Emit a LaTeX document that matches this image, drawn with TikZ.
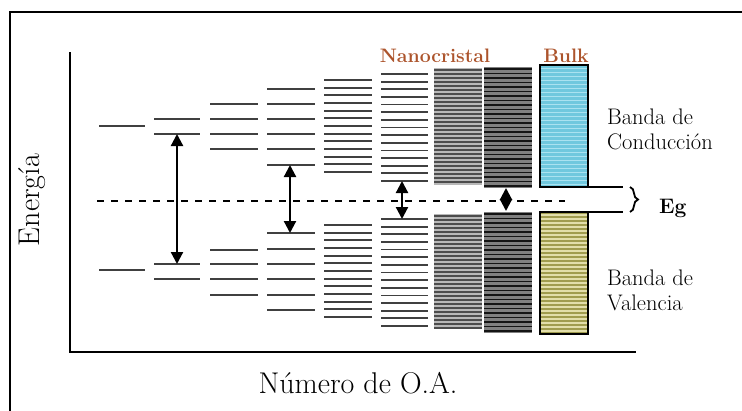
\documentclass[tikz,border=0pt]{standalone}
\usepackage{tikz}
\usepackage{xcolor}
\usetikzlibrary{arrows.meta,decorations.pathreplacing}
\definecolor{levelcolor}{gray}{0.25}
\definecolor{nanocolor}{RGB}{172,84,44}
\definecolor{cbcolor}{RGB}{112,200,222}
\definecolor{cbstripecolor}{RGB}{170,226,240}
\definecolor{vbcolor}{RGB}{160,156,78}
\definecolor{vbstripecolor}{RGB}{226,222,170}
\definecolor{densebgcolor}{gray}{0.72}
\definecolor{denselinecolor}{gray}{0.30}
\definecolor{darkbgcolor}{gray}{0.50}
\definecolor{darklinecolor}{gray}{0.08}

\begin{document}
\begin{tikzpicture}[x=1pt, y=-1pt,
    level/.style={levelcolor, line width=1.8pt},
    gaparrow/.style={{Triangle[length=12pt,width=12pt]}-{Triangle[length=12pt,width=12pt]}, line width=2.2pt},
    axisline/.style={line width=2.4pt},
    bandbox/.style={draw, line width=2pt, outer sep=0pt, inner sep=0pt, minimum width=48pt, minimum height=122pt},
    bigtext/.style={font=\fontsize{30}{32}\selectfont},
    bandtext/.style={font=\fontsize{22.5}{24.5}\selectfont, align=left, anchor=base west, inner sep=0pt},
    headtext/.style={font=\fontsize{19.5}{22}\selectfont\bfseries, text=nanocolor, anchor=base, inner sep=0pt}]

    \useasboundingbox (0,0) rectangle (742,410);
    \draw[line width=2pt] (750,12) -- (10,12) -- (10,420);

    \coordinate (ytop) at (70,52);
    \coordinate (origin) at (70,352);
    \coordinate (xend) at (636,352);
    \draw[axisline] (ytop) -- (origin) -- (xend);

    \node (energy) [bigtext, rotate=90] at (32,200) {Energía};
    \node (numoa) [bigtext, anchor=base] at (358,393) {Número de O.A.};

    \foreach \yy in {126,270}
        \draw[level] (99,\yy) -- (145,\yy);
    \foreach \yy in {119,134,264,279}
        \draw[level] (154,\yy) -- (200,\yy);
    \foreach \yy in {104,119,134,149,250,264,279,295}
        \draw[level] (210,\yy) -- (258,\yy);
    \foreach \yy in {89,104,119,134,149,165,233,249,264,279,295,310}
        \draw[level] (267,\yy) -- (315,\yy);
    \foreach \k in {0,...,12} {
        \draw[level] (324,{80+7.67*\k}) -- (372,{80+7.67*\k});
        \draw[level] (324,{225+7.67*\k}) -- (372,{225+7.67*\k});
    }
    \foreach \k in {0,...,14} {
        \draw[level] (381,{74+7.64*\k}) -- (428,{74+7.64*\k});
        \draw[level] (381,{219+7.64*\k}) -- (428,{219+7.64*\k});
    }

    \fill[densebgcolor] (434,68) rectangle (482,185);
    \fill[densebgcolor] (434,214) rectangle (482,329);
    \foreach \yy in {70,74,...,184}
        \draw[denselinecolor, line width=1.5pt] (434,\yy) -- (482,\yy);
    \foreach \yy in {216,220,...,328}
        \draw[denselinecolor, line width=1.5pt] (434,\yy) -- (482,\yy);
    \fill[darkbgcolor] (484,67) rectangle (532,188);
    \fill[darkbgcolor] (484,212) rectangle (532,333);
    \foreach \yy in {69,73.5,...,187}
        \draw[darklinecolor, line width=1.6pt] (484,\yy) -- (532,\yy);
    \foreach \yy in {214,218.5,...,332}
        \draw[darklinecolor, line width=1.6pt] (484,\yy) -- (532,\yy);

    \node (bulkcb) [bandbox, fill=cbcolor] at (563.5,126) {};
    \node (bulkvb) [bandbox, fill=vbcolor] at (563.5,273) {};
    \foreach \yy in {68,72,...,184}
        \draw[cbstripecolor, line width=1pt] (540.5,\yy) -- (586.5,\yy);
    \foreach \yy in {215,219,...,331}
        \draw[vbstripecolor, line width=1.4pt] (540.5,\yy) -- (586.5,\yy);

    \coordinate (gapleft) at (97,201);
    \coordinate (gapright) at (565,201);
    \draw[line width=2.5pt, dash pattern=on 7pt off 7pt] (gapleft) -- (gapright);

    \coordinate (g2top) at (177,134);
    \coordinate (g2bot) at (177,264);
    \coordinate (g4top) at (290,165);
    \coordinate (g4bot) at (290,233);
    \coordinate (g6top) at (402,181);
    \coordinate (g6bot) at (402,219);
    \coordinate (g8top) at (506,188);
    \coordinate (g8bot) at (506,211);
    \draw[gaparrow] (g2top) -- (g2bot);
    \draw[gaparrow] (g4top) -- (g4bot);
    \draw[gaparrow] (g6top) -- (g6bot);
    \draw[gaparrow] (g8top) -- (g8bot);

    \coordinate (egtop) at (623,187);
    \coordinate (egbot) at (623,212);
    \draw[line width=2pt] (bulkcb.south east) -- (egtop);
    \draw[line width=2pt] (bulkvb.north east) -- (egbot);
    \coordinate (bracetop) at (630,187);
    \coordinate (bracebot) at (630,212);
    \draw[decorate, decoration={brace, amplitude=8pt}, line width=1.8pt] (bracetop) -- (bracebot);
    \node (eg) [font=\fontsize{21}{22}\selectfont\bfseries, anchor=base west, inner sep=0pt] at (659,213) {Eg};

    \node (nano) [headtext] at (435,62) {Nanocristal};
    \node (bulk) [headtext] at (566,62) {Bulk};
    \node (cblabel) [bandtext] at (607,149) {Banda de\\Conducción};
    \node (vblabel) [bandtext] at (607,310) {Banda de\\Valencia};
\end{tikzpicture}
\end{document}
